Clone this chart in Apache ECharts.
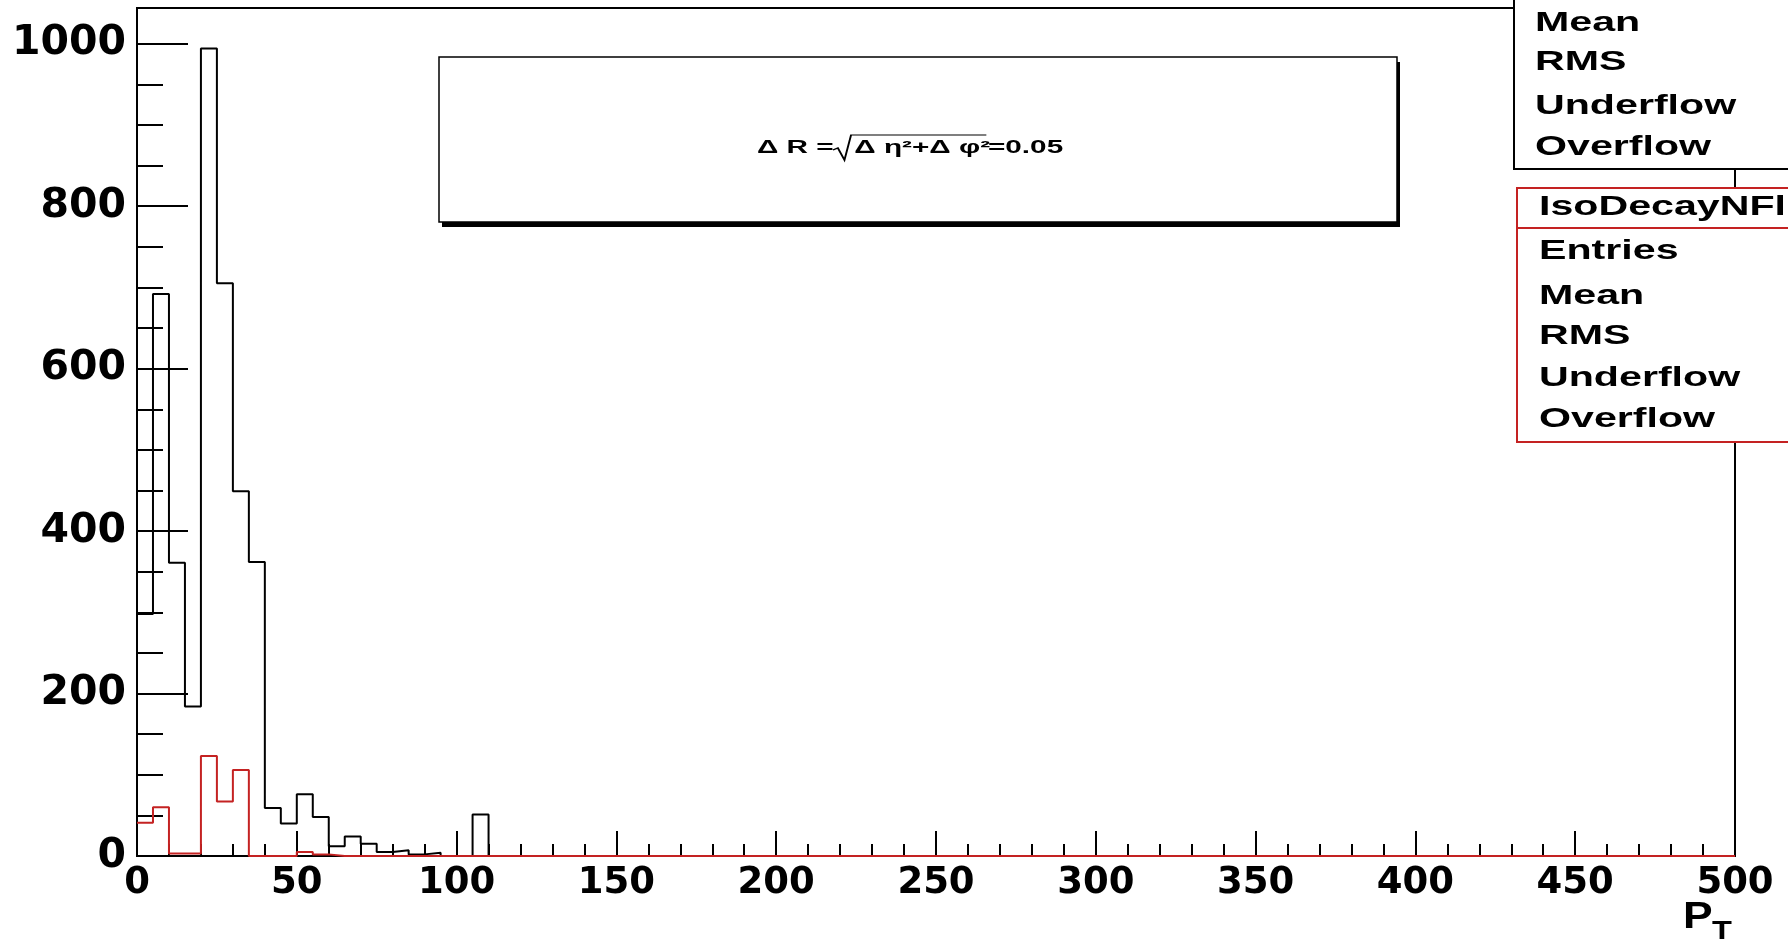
<!DOCTYPE html>
<html>
<head>
<meta charset="utf-8">
<script src="https://cdn.jsdelivr.net/npm/echarts/dist/echarts.min.js"></script>
<style>
  html, body { margin: 0; padding: 0; background: #fff; }
  #main { width: 1788px; height: 943px; }
</style>
</head>
<body>
<div id="main"></div>
<script>
// histogram binning (p_T, 5 GeV bins from 0 to 500)
const binWidth = 5
const nBins = 100
const xTicks = [0, 50, 100, 150, 200, 250, 300, 350, 400, 450, 500]
const yTicks = [0, 200, 400, 600, 800, 1000]
const yMax = 1044

// black histogram, bins from 0 (later bins are empty)
const blackCounts = [298, 692, 361, 184, 994, 705, 449, 362, 59, 40, 76, 48,
  12, 24, 15, 5, 7, 2, 4, 0, 0, 51]
// red histogram (IsoDecayNFlip)
const redCounts = [41, 60, 3, 3, 123, 67, 106, 0, 0, 0, 5, 2]

// stat box labels
const statRows = ['Mean', 'RMS', 'Underflow', 'Overflow']
const redStatTitle = 'IsoDecayNFlip'
const redStatRows = ['Entries', 'Mean', 'RMS', 'Underflow', 'Overflow']

const redColor = '#c42222'

function toSteps(counts) {
  const full = counts.slice()
  while (full.length < nBins) full.push(0)
  const pts = full.map((c, i) => [i * binWidth, c])
  pts.push([nBins * binWidth, full[full.length - 1]])
  return pts
}

const statFont = 'bold 28px "Liberation Sans"'
const txt = (text, x, y, font, fill, sx) => ({
  type: 'text', x, y, scaleX: sx || 1, z: 110,
  style: { text, font, fill: fill || '#000', align: 'left', verticalAlign: 'middle',
    textAlign: 'left', textVerticalAlign: 'middle' }
})

const graphics = []
// formula box with shadow
graphics.push({ type: 'rect', z: 100, shape: { x: 442, y: 62, width: 958, height: 165 }, style: { fill: '#000' } })
graphics.push({ type: 'rect', z: 101, shape: { x: 439, y: 57, width: 958, height: 165 }, style: { fill: '#fff', stroke: '#000', lineWidth: 1.5 } })
const fFont = 'bold 18px "Liberation Sans"'
graphics.push({
  type: 'group', x: 757, y: 148, scaleX: 1.65, z: 110,
  children: [
    { type: 'text', x: 0, y: 0, z: 110, style: { text: 'Δ R =', font: fFont, fill: '#000', verticalAlign: 'middle', textVerticalAlign: 'middle' } },
    { type: 'polyline', z: 110, shape: { points: [[46, 2], [49, 0], [53, 12], [57, -13], [139, -13]] }, style: { stroke: '#000', lineWidth: 1.2, fill: null } },
    { type: 'text', x: 59, y: 0, z: 110, style: { text: 'Δ η²+Δ φ²', font: fFont, fill: '#000', verticalAlign: 'middle', textVerticalAlign: 'middle' } },
    { type: 'text', x: 140, y: 0, z: 110, style: { text: '=0.05', font: fFont, fill: '#000', verticalAlign: 'middle', textVerticalAlign: 'middle' } }
  ]
})
// black stat box (top cut off)
graphics.push({ type: 'rect', z: 100, shape: { x: 1514, y: -80, width: 400, height: 249 }, style: { fill: '#fff', stroke: '#000', lineWidth: 2 } })
const blackY = [23, 62, 106, 147]
statRows.forEach((r, i) => graphics.push(txt(r, 1535, blackY[i], statFont, '#000', 1.47)))
// red stat box
graphics.push({ type: 'rect', z: 100, shape: { x: 1517, y: 188, width: 400, height: 254 }, style: { fill: '#fff', stroke: redColor, lineWidth: 2 } })
graphics.push({ type: 'line', z: 101, shape: { x1: 1517, y1: 228, x2: 1800, y2: 228 }, style: { stroke: redColor, lineWidth: 2 } })
graphics.push(txt(redStatTitle, 1539, 207, statFont, '#000', 1.47))
const redY = [251, 296, 336, 378, 419]
redStatRows.forEach((r, i) => graphics.push(txt(r, 1539, redY[i], statFont, '#000', 1.47)))
// axis title
graphics.push(txt('P', 1683, 918, 'bold 37px "Liberation Sans"', '#000', 1.2))
graphics.push(txt('T', 1712, 932, 'bold 26px "Liberation Sans"', '#000', 1.25))

const chart = echarts.init(document.getElementById('main'))
const option = {
  animation: false,
  backgroundColor: '#fff',
  grid: { left: 137, right: 53, top: 8, bottom: 87, show: true, borderColor: '#000', borderWidth: 2, backgroundColor: 'transparent' },
  xAxis: {
    type: 'value', min: xTicks[0], max: xTicks[xTicks.length - 1], interval: xTicks[1] - xTicks[0],
    axisLine: { show: true, onZero: false, lineStyle: { color: '#000', width: 2 } },
    axisTick: { show: true, inside: true, length: 25, lineStyle: { color: '#000', width: 2 } },
    minorTick: { show: true, splitNumber: 5, length: 12, lineStyle: { color: '#000', width: 2 } },
    splitLine: { show: false },
    axisLabel: { color: '#000', fontFamily: 'DejaVu Sans', fontWeight: 'bold', fontSize: 37, margin: 9, formatter: v => String(v) }
  },
  yAxis: [
    {
      type: 'value', min: yTicks[0], max: yMax, interval: yTicks[1] - yTicks[0], position: 'left',
      axisLine: { show: true, lineStyle: { color: '#000', width: 2 } },
      axisTick: { show: true, inside: true, length: 51, lineStyle: { color: '#000', width: 2 } },
      splitLine: { show: false },
      axisLabel: { color: '#000', fontFamily: 'DejaVu Sans', fontWeight: 'bold', fontSize: 41, margin: 11, showMaxLabel: false, formatter: v => String(v) }
    },
    {
      // minor ticks every 50
      type: 'value', min: yTicks[0], max: yMax, interval: (yTicks[1] - yTicks[0]) / 4, position: 'left',
      axisLine: { show: false },
      axisTick: { show: true, inside: true, length: 26, lineStyle: { color: '#000', width: 2 } },
      splitLine: { show: false },
      axisLabel: { show: false }
    }
  ],
  series: [
    {
      type: 'line', step: 'end', symbol: 'none', yAxisIndex: 0,
      data: toSteps(blackCounts),
      lineStyle: { color: '#000', width: 2 }
    },
    {
      type: 'line', step: 'end', symbol: 'none', yAxisIndex: 0,
      data: toSteps(redCounts),
      lineStyle: { color: redColor, width: 2 }
    }
  ],
  graphic: graphics
}
chart.setOption(option)
</script>
</body>
</html>
